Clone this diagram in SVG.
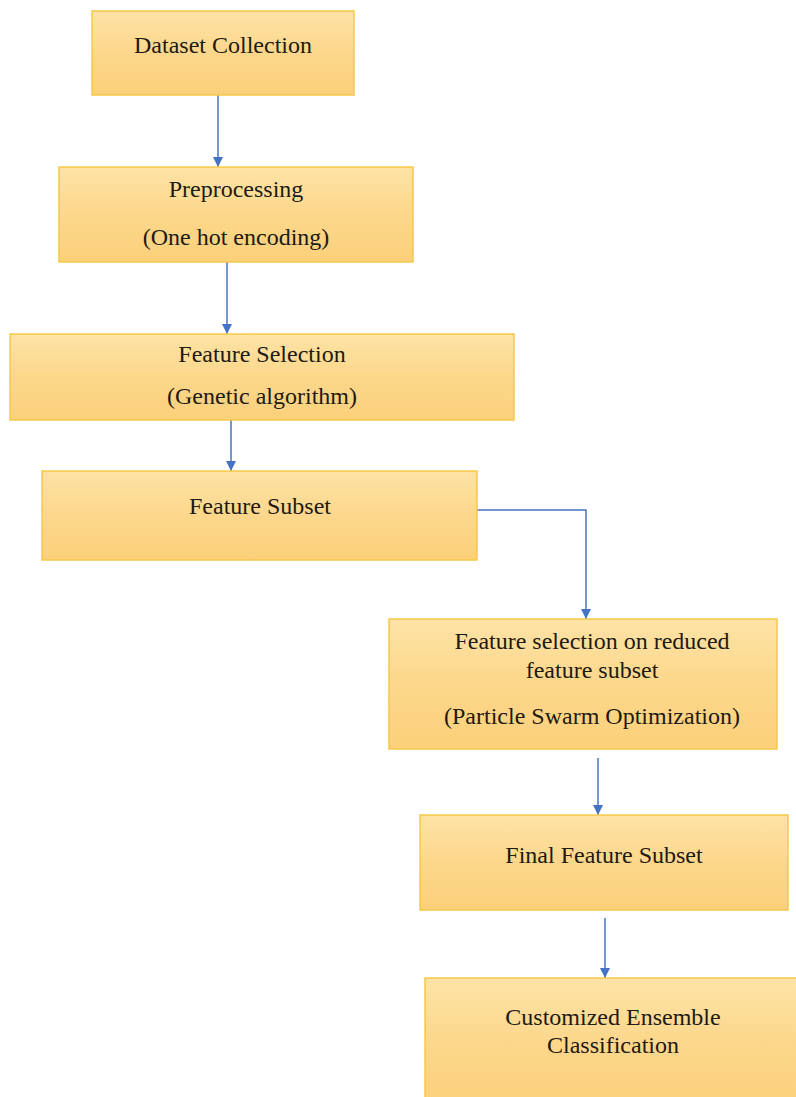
<svg xmlns="http://www.w3.org/2000/svg" width="796" height="1097" viewBox="0 0 796 1097">
<defs>
<linearGradient id="g" x1="0" y1="0" x2="0" y2="1">
<stop offset="0" stop-color="#fde3a6"/>
<stop offset="0.5" stop-color="#fcd78b"/>
<stop offset="1" stop-color="#fbd07a"/>
</linearGradient>
<marker id="ah" viewBox="0 0 10 10" refX="10" refY="5" markerWidth="10" markerHeight="10" markerUnits="userSpaceOnUse" orient="auto">
<path d="M0,0 L10,5 L0,10 z" fill="#4472c4"/>
</marker>
<style>
.box{fill:url(#g);stroke:#f5c94a;stroke-width:1.5}
.c{fill:none;stroke:#4a72c0;stroke-width:1.5;marker-end:url(#ah)}
</style>
</defs>
<rect width="796" height="1097" fill="#fff"/>
<g id="connectors">
<path class="c" d="M218,95 V167"/>
<path class="c" d="M227,262 V334"/>
<path class="c" d="M231,420 V471"/>
<path class="c" d="M477,510 H586 V619"/>
<path class="c" d="M598,758 V815"/>
<path class="c" d="M605,918 V978"/>
</g>
<g id="n1"><rect class="box" x="92" y="11" width="262" height="84"/><text font-family="Times New Roman" font-size="24" fill="#1e1a14" text-anchor="middle" x="223" y="53">Dataset Collection</text></g>
<g id="n2"><rect class="box" x="59" y="167" width="354" height="95"/><text font-family="Times New Roman" font-size="24" fill="#1e1a14" text-anchor="middle" x="236" y="197">Preprocessing</text><text font-family="Times New Roman" font-size="24" fill="#1e1a14" text-anchor="middle" x="236" y="245">(One hot encoding)</text></g>
<g id="n3"><rect class="box" x="10" y="334" width="504" height="86"/><text font-family="Times New Roman" font-size="24" fill="#1e1a14" text-anchor="middle" x="262" y="362">Feature Selection</text><text font-family="Times New Roman" font-size="24" fill="#1e1a14" text-anchor="middle" x="262" y="404">(Genetic algorithm)</text></g>
<g id="n4"><rect class="box" x="42" y="471" width="435" height="89"/><text font-family="Times New Roman" font-size="24" fill="#1e1a14" text-anchor="middle" x="260" y="514">Feature Subset</text></g>
<g id="n5"><rect class="box" x="389" y="619" width="388" height="130"/><text font-family="Times New Roman" font-size="24" fill="#1e1a14" text-anchor="middle" x="592" y="649">Feature selection on reduced</text><text font-family="Times New Roman" font-size="24" fill="#1e1a14" text-anchor="middle" x="592" y="678">feature subset</text><text font-family="Times New Roman" font-size="24" fill="#1e1a14" text-anchor="middle" x="592" y="724">(Particle Swarm Optimization)</text></g>
<g id="n6"><rect class="box" x="420" y="815" width="368" height="95"/><text font-family="Times New Roman" font-size="24" fill="#1e1a14" text-anchor="middle" x="604" y="863">Final Feature Subset</text></g>
<g id="n7"><rect class="box" x="425" y="978" width="380" height="130"/><text font-family="Times New Roman" font-size="24" fill="#1e1a14" text-anchor="middle" x="613" y="1025">Customized Ensemble</text><text font-family="Times New Roman" font-size="24" fill="#1e1a14" text-anchor="middle" x="613" y="1053">Classification</text></g>
</svg>
